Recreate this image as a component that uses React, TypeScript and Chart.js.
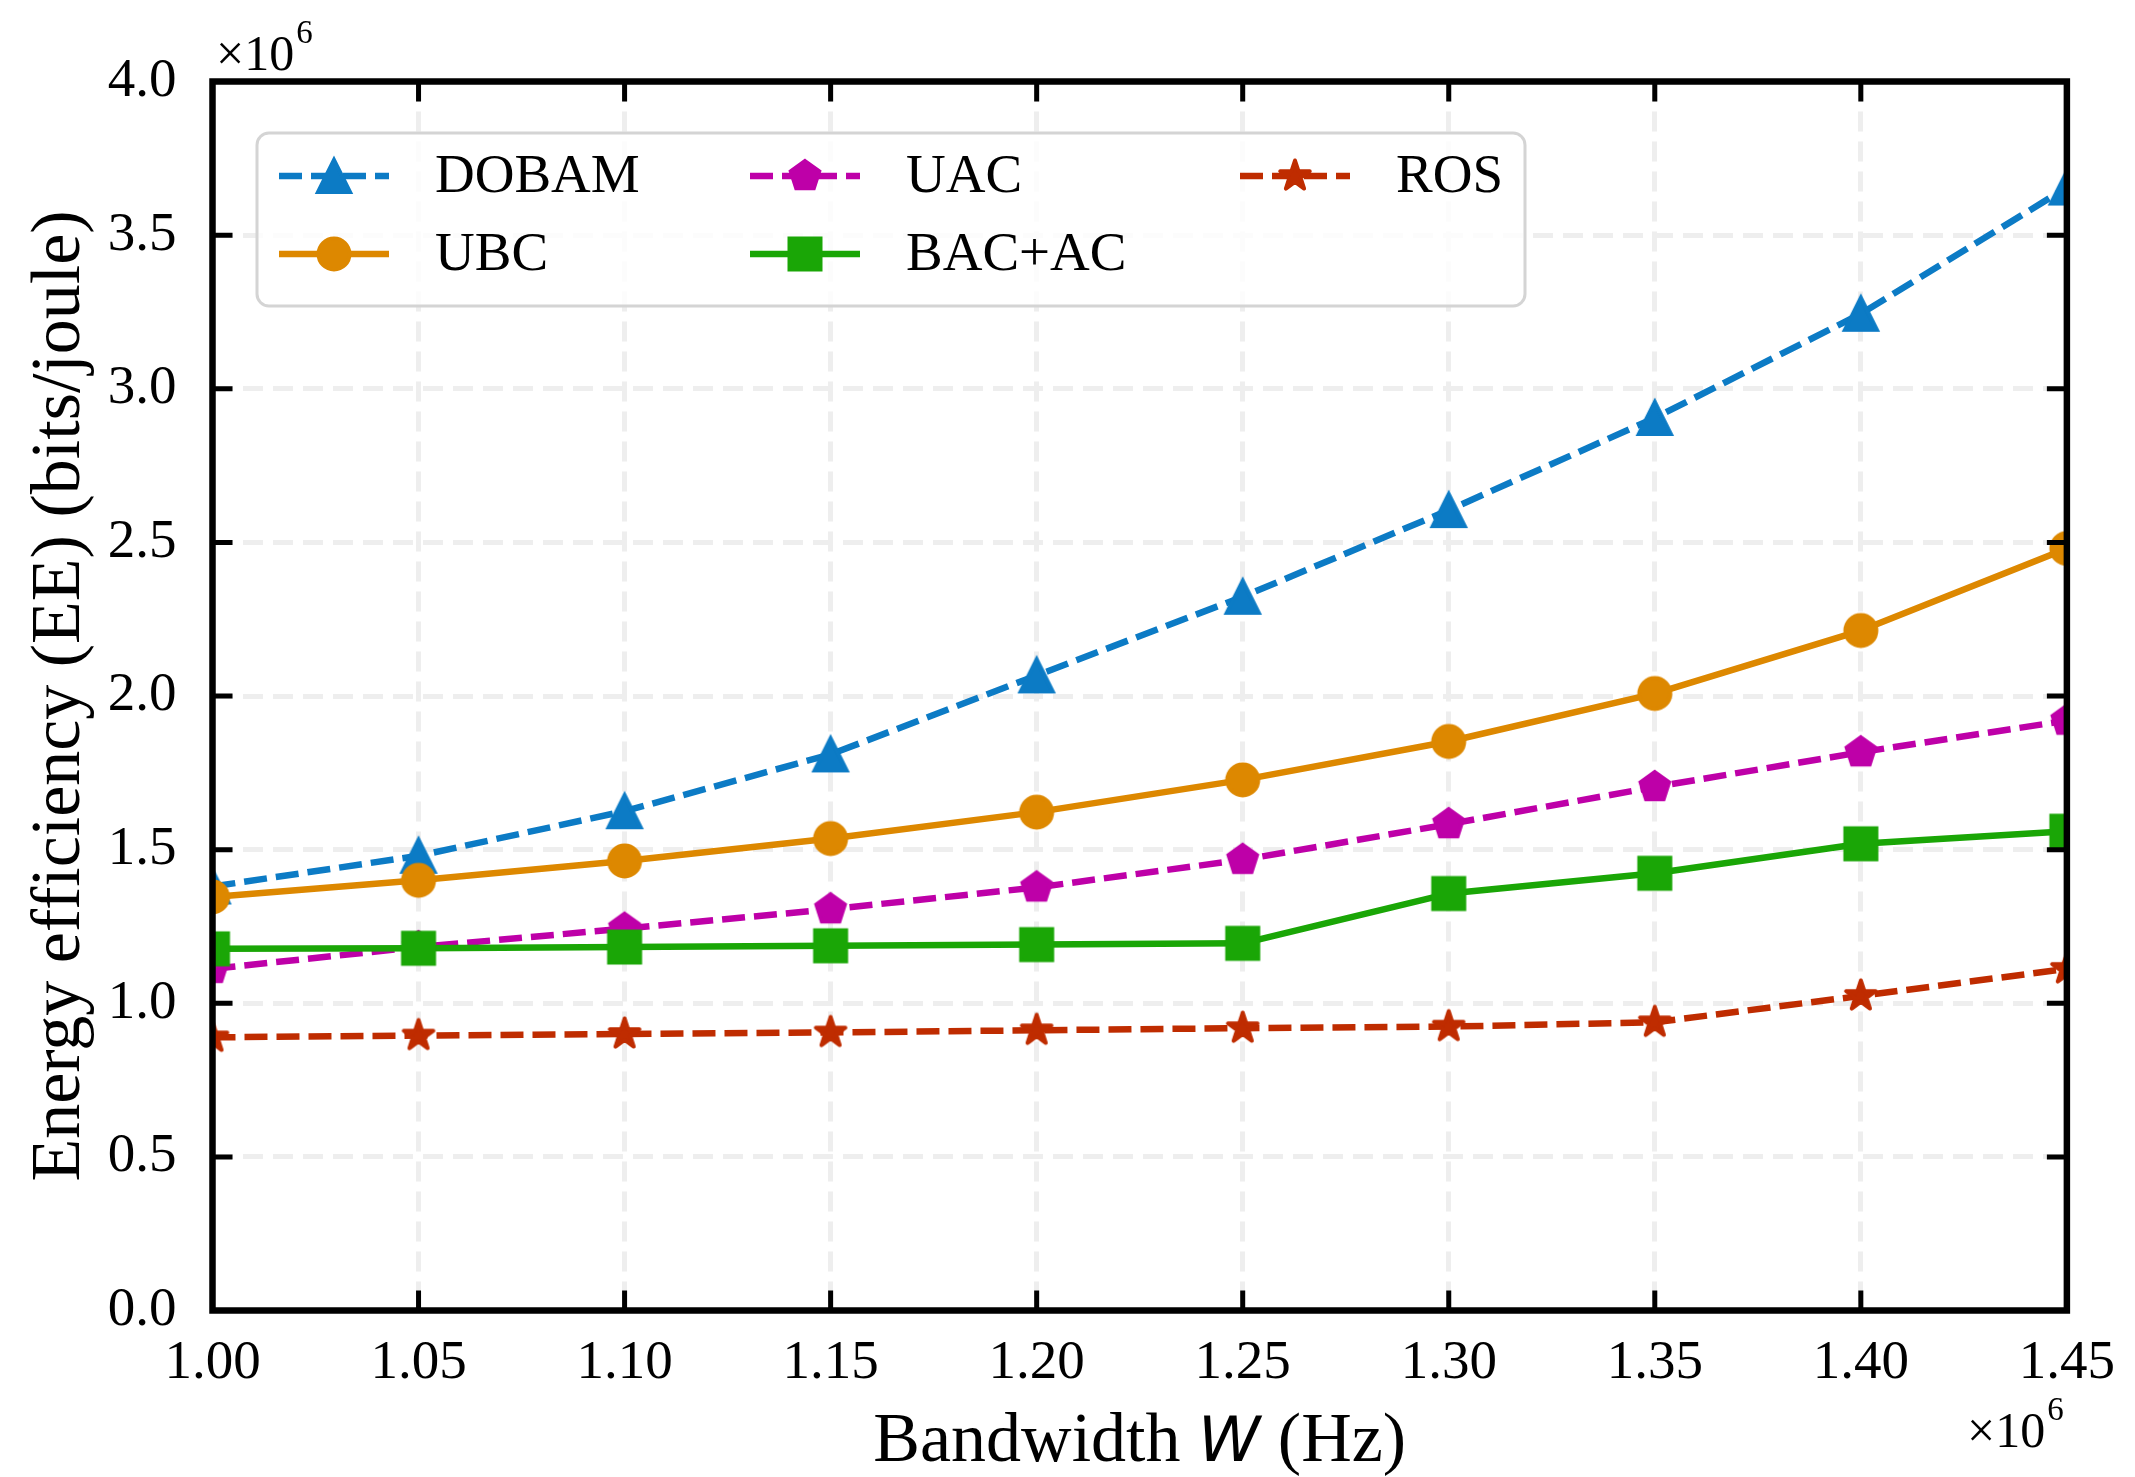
import React, { useEffect, useRef } from 'react';
import { Chart, registerables } from 'chart.js';

Chart.register(...registerables);

// x values in units of 10^6 Hz, y values in units of 10^6 bits/joule
const BANDWIDTH = [1.0, 1.05, 1.1, 1.15, 1.2, 1.25, 1.3, 1.35, 1.4, 1.45];
const EE_DOBAM = [1.38, 1.48, 1.625, 1.81, 2.067, 2.323, 2.605, 2.905, 3.244, 3.655];
const EE_UBC = [1.346, 1.4, 1.463, 1.536, 1.622, 1.727, 1.852, 2.008, 2.213, 2.48];
const EE_UAC = [1.112, 1.183, 1.243, 1.306, 1.377, 1.467, 1.583, 1.704, 1.817, 1.92];
const EE_BAC_AC = [1.177, 1.179, 1.183, 1.187, 1.191, 1.195, 1.357, 1.423, 1.519, 1.56];
const EE_ROS = [0.889, 0.895, 0.9, 0.905, 0.912, 0.919, 0.924, 0.938, 1.024, 1.112];

const X_TICKS = [1.0, 1.05, 1.1, 1.15, 1.2, 1.25, 1.3, 1.35, 1.4, 1.45];
const Y_TICKS = [0, 0.5, 1.0, 1.5, 2.0, 2.5, 3.0, 3.5, 4.0];

type Marker = 'triangle' | 'circle' | 'pentagon' | 'square' | 'star';

const SERIES: { label: string; values: number[]; color: string; dashed: boolean; marker: Marker }[] = [
  { label: 'DOBAM', values: EE_DOBAM, color: '#0C7BC5', dashed: true, marker: 'triangle' },
  { label: 'UBC', values: EE_UBC, color: '#DD8800', dashed: false, marker: 'circle' },
  { label: 'UAC', values: EE_UAC, color: '#BE00A8', dashed: true, marker: 'pentagon' },
  { label: 'BAC+AC', values: EE_BAC_AC, color: '#1AA606', dashed: false, marker: 'square' },
  { label: 'ROS', values: EE_ROS, color: '#BF2C00', dashed: true, marker: 'star' },
];

const SERIF = '"Liberation Serif", "Times New Roman", serif';
const DASH = [23, 9];
const LINE_W = 6.5;

function polygon(ctx: CanvasRenderingContext2D, pts: [number, number][]) {
  ctx.beginPath();
  pts.forEach(([x, y], i) => (i === 0 ? ctx.moveTo(x, y) : ctx.lineTo(x, y)));
  ctx.closePath();
}

function drawMarker(ctx: CanvasRenderingContext2D, kind: Marker, x: number, y: number, color: string) {
  ctx.save();
  ctx.translate(x, y);
  ctx.fillStyle = color;
  ctx.strokeStyle = color;
  ctx.lineWidth = 4;
  ctx.lineJoin = 'miter';
  ctx.setLineDash([]);
  if (kind === 'triangle') {
    const h = 16;
    polygon(ctx, [[0, -h], [-h, h], [h, h]]);
  } else if (kind === 'circle') {
    ctx.beginPath();
    ctx.arc(0, 0, 15.5, 0, Math.PI * 2);
  } else if (kind === 'square') {
    ctx.beginPath();
    ctx.rect(-15.5, -15.5, 31, 31);
  } else if (kind === 'pentagon') {
    const pts: [number, number][] = [];
    for (let k = 0; k < 5; k++) {
      const a = -Math.PI / 2 + (k * 2 * Math.PI) / 5;
      pts.push([15 * Math.cos(a), 15 * Math.sin(a)]);
    }
    polygon(ctx, pts);
  } else {
    ctx.lineJoin = 'round';
    const pts: [number, number][] = [];
    for (let k = 0; k < 10; k++) {
      const r = k % 2 === 0 ? 15.5 : 15.5 * 0.382;
      const a = -Math.PI / 2 + (k * Math.PI) / 5;
      pts.push([r * Math.cos(a), r * Math.sin(a)]);
    }
    polygon(ctx, pts);
  }
  ctx.fill();
  ctx.stroke();
  ctx.restore();
}

function markerCanvas(kind: Marker, color: string) {
  const c = document.createElement('canvas');
  c.width = 50;
  c.height = 50;
  const ctx = c.getContext('2d');
  if (ctx) drawMarker(ctx, kind, 25, 25, color);
  return c;
}

const overlayPlugin = {
  id: 'overlay',
  afterDatasetsDraw(chart: any) {
    const { ctx, chartArea: a, scales } = chart;
    const xs = scales.x;
    const ys = scales.y;
    ctx.save();

    // inward ticks on all four sides
    ctx.strokeStyle = '#000';
    ctx.lineWidth = 5;
    ctx.setLineDash([]);
    ctx.beginPath();
    xs.ticks.forEach((t: any) => {
      const px = xs.getPixelForValue(t.value);
      ctx.moveTo(px, a.bottom);
      ctx.lineTo(px, a.bottom - 20);
      ctx.moveTo(px, a.top);
      ctx.lineTo(px, a.top + 20);
    });
    ys.ticks.forEach((t: any) => {
      const py = ys.getPixelForValue(t.value);
      ctx.moveTo(a.left, py);
      ctx.lineTo(a.left + 20, py);
      ctx.moveTo(a.right, py);
      ctx.lineTo(a.right - 20, py);
    });
    ctx.stroke();

    // frame
    ctx.lineWidth = 6.5;
    ctx.lineJoin = 'miter';
    ctx.strokeRect(a.left, a.top, a.right - a.left, a.bottom - a.top);

    // offset texts (x10^6)
    ctx.fillStyle = '#000';
    ctx.textBaseline = 'alphabetic';
    ctx.textAlign = 'left';
    const offsetText = (x: number, y: number) => {
      ctx.font = `50px ${SERIF}`;
      ctx.fillText('\u00d710', x, y);
      const w = ctx.measureText('\u00d710').width;
      ctx.font = `33px ${SERIF}`;
      ctx.fillText('6', x + w + 2, y - 27);
    };
    offsetText(216, 70);
    offsetText(1967, 1447);

    // y axis title
    ctx.save();
    ctx.translate(61, (a.top + a.bottom) / 2);
    ctx.rotate(-Math.PI / 2);
    ctx.font = `70px ${SERIF}`;
    ctx.textAlign = 'center';
    ctx.textBaseline = 'middle';
    ctx.fillText('Energy efficiency (EE) (bits/joule)', 0, 0);
    ctx.restore();

    // x axis title: serif text with an italic sans "W"
    const parts = [
      { t: 'Bandwidth ', f: `70px ${SERIF}` },
      { t: 'W', f: `italic 63px "DejaVu Sans", sans-serif` },
      { t: ' (Hz)', f: `70px ${SERIF}` },
    ];
    let total = 0;
    const widths = parts.map((p) => {
      ctx.font = p.f;
      const w = ctx.measureText(p.t).width;
      total += w;
      return w;
    });
    let cx = (a.left + a.right) / 2 - total / 2;
    parts.forEach((p, i) => {
      ctx.font = p.f;
      ctx.fillText(p.t, cx, 1461);
      cx += widths[i];
    });

    // legend (3 columns, filled column by column)
    const box = { x: 257, y: 133, w: 1268, h: 173 };
    ctx.beginPath();
    ctx.roundRect(box.x, box.y, box.w, box.h, 12);
    ctx.fillStyle = 'rgba(255,255,255,0.8)';
    ctx.fill();
    ctx.lineWidth = 3;
    ctx.strokeStyle = '#d4d4d4';
    ctx.stroke();

    const colX = [279, 750, 1240];
    const rowY = [176, 254];
    SERIES.forEach((s, i) => {
      const x0 = colX[Math.floor(i / 2)];
      const y0 = rowY[i % 2];
      ctx.strokeStyle = s.color;
      ctx.lineWidth = LINE_W;
      ctx.lineCap = 'butt';
      ctx.setLineDash(s.dashed ? DASH : []);
      ctx.beginPath();
      ctx.moveTo(x0, y0);
      ctx.lineTo(x0 + 110, y0);
      ctx.stroke();
      ctx.setLineDash([]);
      drawMarker(ctx, s.marker, x0 + 55, y0, s.color);
      ctx.fillStyle = '#000';
      ctx.font = `55px ${SERIF}`;
      ctx.textAlign = 'left';
      ctx.textBaseline = 'middle';
      ctx.fillText(s.label, x0 + 156, y0 + 2);
    });

    ctx.restore();
  },
};

const EnergyEfficiencyChart: React.FC = () => {
  const canvasRef = useRef<HTMLCanvasElement | null>(null);
  const chartRef = useRef<Chart | null>(null);

  useEffect(() => {
    if (chartRef.current) chartRef.current.destroy();
    const canvas = canvasRef.current;
    if (!canvas) return;

    const gridStyle = { color: '#eeeeee', lineWidth: 5, drawTicks: false };
    const tickFont = { family: SERIF, size: 55 };

    chartRef.current = new Chart(canvas, {
      type: 'line',
      data: {
        datasets: SERIES.map((s, i) => ({
          label: s.label,
          data: BANDWIDTH.map((x, j) => ({ x, y: s.values[j] })),
          borderColor: s.color,
          backgroundColor: s.color,
          borderWidth: LINE_W,
          borderDash: s.dashed ? DASH : [],
          borderJoinStyle: 'round' as const,
          pointStyle: markerCanvas(s.marker, s.color),
          pointRadius: 17,
          tension: 0,
          clip: 0,
          order: SERIES.length - 1 - i,
        })),
      },
      options: {
        responsive: false,
        animation: false,
        devicePixelRatio: 1,
        layout: { padding: { top: 81.5, right: 68, left: 0, bottom: 0 }, autoPadding: false },
        plugins: { legend: { display: false }, tooltip: { enabled: false } },
        scales: {
          x: {
            type: 'linear',
            min: 1.0,
            max: 1.45,
            afterBuildTicks: (s: any) => {
              s.ticks = X_TICKS.map((value) => ({ value }));
            },
            afterFit: (s: any) => {
              s.height = 166.5;
            },
            ticks: {
              font: tickFont,
              color: '#000',
              padding: 20,
              maxRotation: 0,
              autoSkip: false,
              callback: (v: any) => Number(v).toFixed(2),
            },
            grid: gridStyle,
            border: { display: false, dash: [20, 10] },
          },
          y: {
            type: 'linear',
            min: 0,
            max: 4,
            afterBuildTicks: (s: any) => {
              s.ticks = Y_TICKS.map((value) => ({ value }));
            },
            afterFit: (s: any) => {
              s.width = 212.5;
            },
            ticks: {
              font: tickFont,
              color: '#000',
              padding: 36,
              autoSkip: false,
              callback: (v: any) => Number(v).toFixed(1),
            },
            grid: gridStyle,
            border: { display: false, dash: [20, 10] },
          },
        },
      },
      plugins: [overlayPlugin],
    } as any);

    return () => {
      if (chartRef.current) {
        chartRef.current.destroy();
        chartRef.current = null;
      }
    };
  }, []);

  return (
    <div style={{ position: 'absolute', left: 0, top: 0, width: 2135, height: 1477, background: '#fff' }}>
      <canvas ref={canvasRef} width={2135} height={1477} />
    </div>
  );
};

export default function App() {
  return <EnergyEfficiencyChart />;
}
